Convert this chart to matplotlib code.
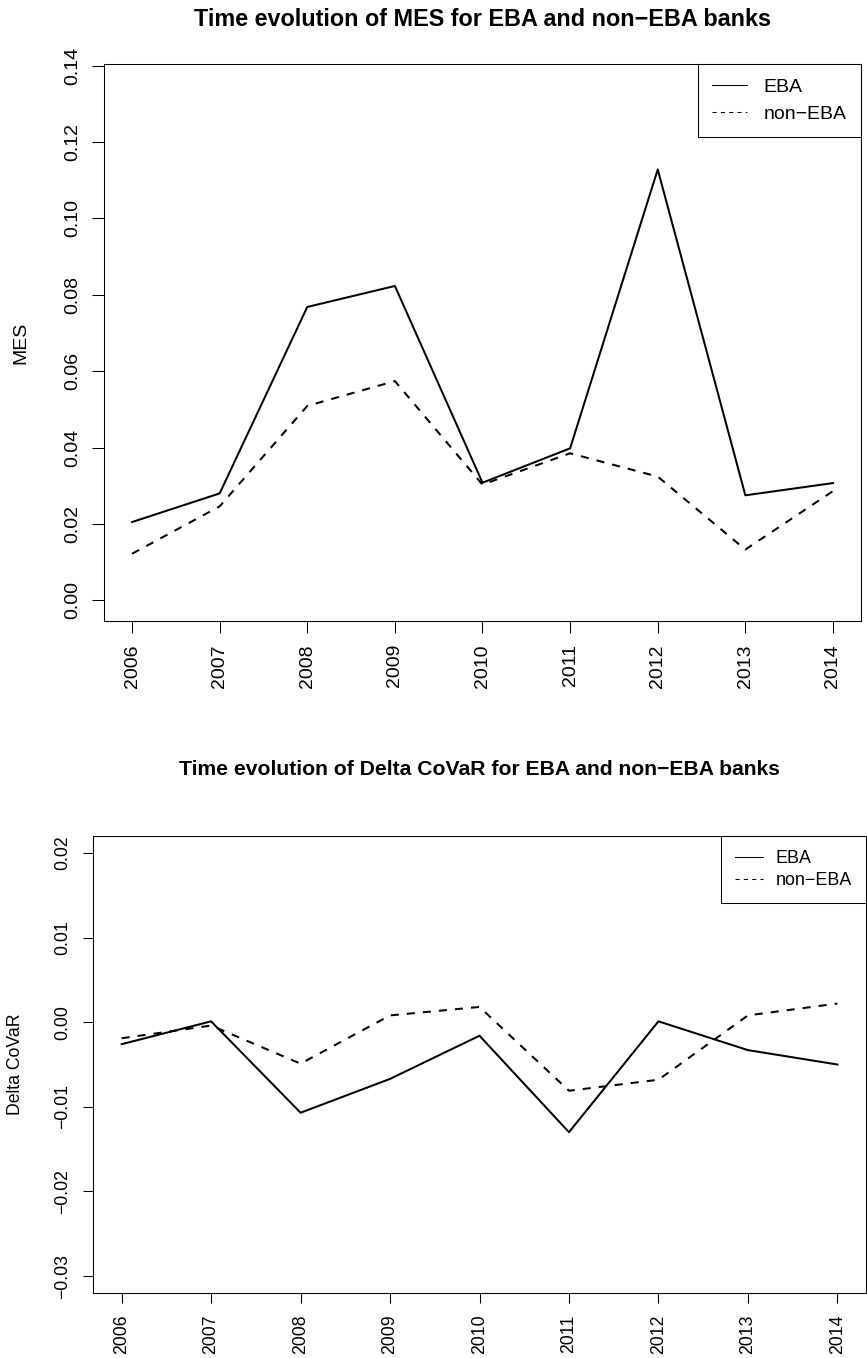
import matplotlib
matplotlib.use("Agg")
import matplotlib.pyplot as plt

# ========================
# DATA
# ========================
years = [2006, 2007, 2008, 2009, 2010, 2011, 2012, 2013, 2014]

mes_eba = [0.0205, 0.0280, 0.0768, 0.0823, 0.0308, 0.0398, 0.1128, 0.0275, 0.0307]
mes_non_eba = [0.0122, 0.0246, 0.0509, 0.0574, 0.0303, 0.0385, 0.0324, 0.0133, 0.0286]

covar_eba = [-0.0026, 0.0001, -0.0107, -0.0067, -0.0016, -0.0130, 0.0001, -0.0033, -0.0050]
covar_non_eba = [-0.0019, -0.0004, -0.0049, 0.0008, 0.0018, -0.0081, -0.0068, 0.0008, 0.0022]

mes_ticks = [0.00, 0.02, 0.04, 0.06, 0.08, 0.10, 0.12, 0.14]
covar_ticks = [-0.03, -0.02, -0.01, 0.00, 0.01, 0.02]

# ========================
# STYLE
# ========================
plt.rcParams['font.family'] = ['Liberation Sans', 'DejaVu Sans']
plt.rcParams['axes.linewidth'] = 0.75

LW = 1.45
DASH = (0, (4, 4))


def panel(ax, eba, non_eba, ticks, ylim, ylabel, title, fs, title_fs, title_pad,
          label_x, tick_len, leg_opts):
    ax.plot(years, eba, color='black', lw=LW, label='EBA')
    ax.plot(years, non_eba, color='black', lw=LW, linestyle=DASH, label='non\u2212EBA')

    ax.set_xlim(2005.68, 2014.32)
    ax.set_ylim(*ylim)
    ax.set_xticks(years)
    ax.set_xticklabels([str(y) for y in years], rotation=90)
    ax.set_yticks(ticks)
    ax.set_yticklabels([f"{t:.2f}".replace('-', '\u2212') for t in ticks],
                       rotation=90, va='center')
    ax.tick_params(direction='out', length=tick_len, width=0.75, labelsize=fs, pad=8)

    ax.set_title(title, fontsize=title_fs, fontweight='bold', pad=title_pad)
    ax.set_ylabel(ylabel, fontsize=fs)
    ax.yaxis.set_label_coords(label_x, 0.5)

    leg = ax.legend(loc='upper right', bbox_to_anchor=(1, 1), borderaxespad=0,
                    fancybox=False, edgecolor='black', framealpha=1, **leg_opts)
    leg.get_frame().set_linewidth(0.75)
    for h in leg.get_lines():
        h.set_linewidth(0.75)
    return ax


fig = plt.figure(figsize=(8.67, 13.58), dpi=100)

# ===== MES =====
ax1 = fig.add_axes([104 / 867, 1 - 621 / 1358, 757 / 867, (621 - 64) / 1358])
panel(ax1, mes_eba, mes_non_eba, mes_ticks, (-0.0054, 0.1404), 'MES',
      'Time evolution of MES for EBA and non\u2212EBA banks',
      fs=14, title_fs=16.8, title_pad=27, label_x=-0.098, tick_len=8.6,
      leg_opts=dict(fontsize=14, handlelength=1.8, handletextpad=0.85,
                    borderpad=0.73, labelspacing=0.49))

# ===== DELTA COVAR =====
ax2 = fig.add_axes([93 / 867, 1 - 1293 / 1358, 773 / 867, (1293 - 836) / 1358])
panel(ax2, covar_eba, covar_non_eba, covar_ticks, (-0.032, 0.022), 'Delta CoVaR',
      'Time evolution of Delta CoVaR for EBA and non\u2212EBA banks',
      fs=12.7, title_fs=15.2, title_pad=44, label_x=-0.089, tick_len=7.4,
      leg_opts=dict(fontsize=12.9, handlelength=1.6, handletextpad=0.7,
                    borderpad=0.78, labelspacing=0.27))

plt.savefig("out.png", dpi=100)
plt.close()
